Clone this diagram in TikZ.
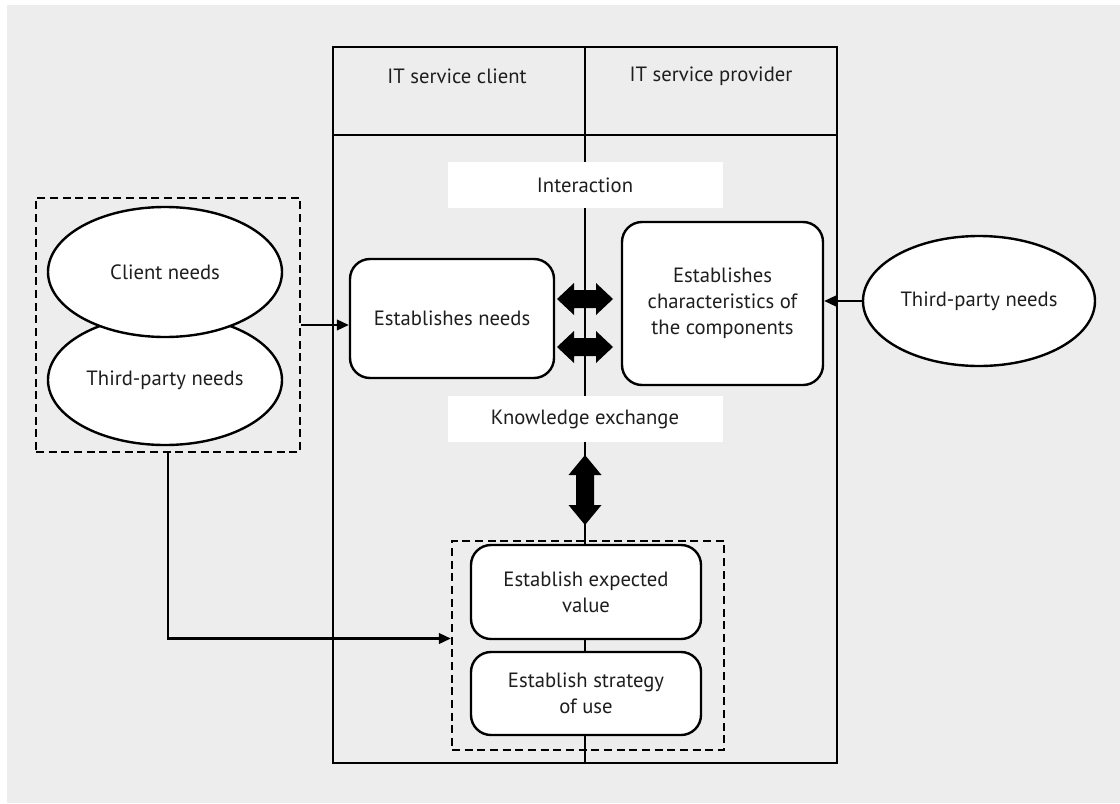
\documentclass[tikz,border=0pt]{standalone}
\usepackage{fontspec}
\setmainfont{PT Sans}
\usepackage{tikz}
\usetikzlibrary{shapes.geometric,arrows.meta}

\definecolor{bggrey}{HTML}{ECEDEC}
\definecolor{inkgrey}{HTML}{1E1E1E}

\tikzset{
  roundbox/.style={draw, fill=white, rounded corners=15pt, line width=1.8pt, align=center, inner sep=0pt},
  needell/.style={ellipse, draw, fill=white, line width=1.8pt, minimum width=175.5pt, minimum height=97.5pt, inner sep=0pt},
  labelbox/.style={fill=white, minimum width=206.25pt, minimum height=34pt, inner sep=0pt},
  dashbox/.style={draw, line width=1.8pt, dash pattern=on 6pt off 3.5pt, inner sep=0pt},
  arr/.style={line width=1.6pt, -{Triangle[length=9pt,width=8pt]}},
}

\begin{document}
\begin{tikzpicture}[x=0.75pt, y=-0.75pt, text=inkgrey,
  font=\fontsize{15.5}{19.5}\selectfont]
\useasboundingbox (0,0) rectangle (1120,803);
\fill[bggrey] (7,5) rectangle (1120,803);

% frame of the two columns
\draw[line width=1.5pt] (585,47) -- (585,763);
\draw[line width=2.2pt] (333,47) rectangle (837,763);
\draw[line width=2.2pt] (333,135) -- (837,135);

\node (client) at (457,76) {IT service client};
\node (provider) at (711,76) {IT service provider};

\node[labelbox] (inter) at (585,185) {Interaction};
\node[labelbox] (know) at (585,419) {Knowledge exchange};

\node[roundbox, minimum width=153pt, minimum height=89.25pt] (estneeds) at (452,318.5) {Establishes needs};
\node[roundbox, minimum width=150.75pt, minimum height=122.25pt] (charac) at (722.5,303.5) {Establishes\\characteristics of\\the components};

% lower group
\node[dashbox, minimum width=204pt, minimum height=156.75pt] (lowgroup) at (588,645.5) {};
\node[roundbox, minimum width=172.5pt, minimum height=70.5pt] (expval) at (586,592) {Establish expected\\value};
\node[roundbox, minimum width=172.5pt, minimum height=62.25pt] (strat) at (586,693.5) {Establish strategy\\of use};

% needs on the left
\node[dashbox, minimum width=198pt, minimum height=190.5pt] (leftgroup) at (168,325) {};
\node[needell] (thirdleft) at (165,380) {Third-party needs};
\node[needell] (clneeds) at (165,272) {Client needs};

% needs on the right
\node[needell, minimum width=174pt] (thirdright) at (979,301) {Third-party needs};

% block arrows
\foreach \c in {299,347}
  \fill[shift={(585,\c)}] (-28,0) -- (-11,-16) -- (-11,-9) -- (11,-9) -- (11,-16)
    -- (28,0) -- (11,16) -- (11,9) -- (-11,9) -- (-11,16) -- cycle;
\fill[shift={(585,490)}] (0,-35) -- (16.5,-15) -- (9,-15) -- (9,15) -- (16.5,15)
  -- (0,35) -- (-16.5,15) -- (-9,15) -- (-9,-15) -- (-16.5,-15) -- cycle;

% connectors
\draw[arr] (leftgroup.east) -- (leftgroup.east -| estneeds.west);
\draw[arr] (thirdright.west) -- (thirdright.west -| charac.east);
\draw[arr] (leftgroup.south) |- ([yshift=5.25pt]lowgroup.west);

\end{tikzpicture}
\end{document}
